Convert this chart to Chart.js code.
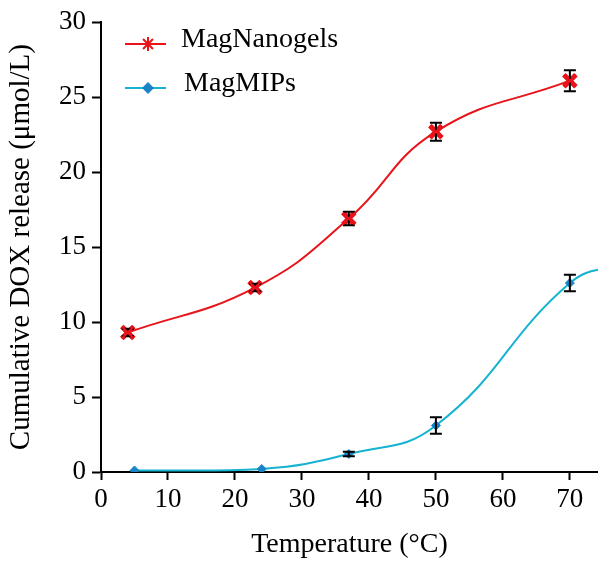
<!DOCTYPE html>
<html>
<head>
<meta charset="utf-8">
<script src="https://cdn.jsdelivr.net/npm/chart.js@4.4.0/dist/chart.umd.min.js"></script>
<style>
  html, body { margin: 0; padding: 0; background: #fff; }
  #wrap { width: 598px; height: 565px; }
</style>
</head>
<body>
<div id="wrap"><canvas id="releaseChart"></canvas></div>
<script>
var temps1 = [4, 23, 37, 50, 70];
var nanogels = [9.3, 12.3, 16.9, 22.7, 26.1];
var nanogelsErr = [0.25, 0.25, 0.45, 0.6, 0.7];

// last MagMIPs point sits past the axis end, only its curve shows
var temps2 = [5, 24, 37, 50, 70, 78];
var mips = [0.1, 0.2, 1.2, 3.1, 12.6, 13.9];
var mipsErr = [0, 0, 0.15, 0.55, 0.55, 0];

var xTicks = [0, 10, 20, 30, 40, 50, 60, 70];
var yTicks = [0, 5, 10, 15, 20, 25, 30];

var legendLabels = ["MagNanogels", "MagMIPs"];

var serif = "'Liberation Serif', 'Times New Roman', serif";

function toPoints(xs, ys) {
    var pts = [];
    for (var i = 0; i < xs.length; i++) pts.push({x: xs[i], y: ys[i]});
    return pts;
}

var errorBars = {
    id: "errorBars",
    afterDatasetsDraw: function(chart) {
        var ctx = chart.ctx;
        var xs = chart.scales.x, ys = chart.scales.y;
        var sets = [[temps1, nanogels, nanogelsErr], [temps2, mips, mipsErr]];
        ctx.save();
        ctx.strokeStyle = "#000";
        ctx.lineWidth = 2;
        sets.forEach(function(s) {
            for (var i = 0; i < s[0].length; i++) {
                if (!s[2][i]) continue;
                var px = xs.getPixelForValue(s[0][i]);
                var top = ys.getPixelForValue(s[1][i] + s[2][i]);
                var bot = ys.getPixelForValue(s[1][i] - s[2][i]);
                ctx.beginPath();
                ctx.moveTo(px, top); ctx.lineTo(px, bot);
                ctx.moveTo(px - 6, top); ctx.lineTo(px + 6, top);
                ctx.moveTo(px - 6, bot); ctx.lineTo(px + 6, bot);
                ctx.stroke();
            }
        });
        // redraw the red markers over the bars
        var meta = chart.getDatasetMeta(0);
        meta.data.forEach(function(pt) {
            ctx.strokeStyle = "#e8141a";
            ctx.fillStyle = "#e8141a";
            Chart.helpers.drawPoint(ctx, {pointStyle: "crossRot", radius: 8.5, borderWidth: 5, rotation: 0}, pt.x, pt.y);
        });
        ctx.restore();
    }
};

var customLegend = {
    id: "customLegend",
    afterDraw: function(chart) {
        var ctx = chart.ctx;
        var rows = [
            {y: 44, color: "#e8141a", style: "star", r: 7, bw: 2, fill: "#e8141a"},
            {y: 88, color: "#16b3d0", style: "rectRot", r: 4.5, bw: 1, fill: "#1a84c6"}
        ];
        ctx.save();
        rows.forEach(function(row, i) {
            ctx.strokeStyle = row.color;
            ctx.lineWidth = 2;
            ctx.beginPath();
            ctx.moveTo(125, row.y); ctx.lineTo(166, row.y);
            ctx.stroke();
            ctx.fillStyle = row.fill;
            ctx.strokeStyle = row.fill;
            Chart.helpers.drawPoint(ctx, {
                pointStyle: row.style, radius: row.r, borderWidth: row.bw, rotation: 0
            }, 148, row.y);
            ctx.fillStyle = "#000";
            ctx.font = "28px " + serif;
            ctx.textBaseline = "middle";
            ctx.fillText(legendLabels[i], i === 0 ? 181 : 184, row.y - 4);
        });
        ctx.restore();
    }
};

new Chart("releaseChart", {
    type: "line",
    data: {
        datasets: [{
            label: legendLabels[0],
            data: toPoints(temps1, nanogels),
            borderColor: "#e8141a",
            backgroundColor: "#e8141a",
            borderWidth: 2,
            pointStyle: "crossRot",
            pointRadius: 8.5,
            pointBorderWidth: 5,
            tension: 0.45
        }, {
            label: legendLabels[1],
            data: toPoints(temps2, mips),
            borderColor: "#16b3d0",
            backgroundColor: "#1a84c6",
            pointBorderColor: "#1a84c6",
            borderWidth: 2,
            pointStyle: "rectRot",
            pointRadius: [4.5, 4.5, 4.5, 4.5, 4.5, 0],
            pointBorderWidth: 1,
            tension: 0.45
        }]
    },
    options: {
        responsive: true,
        maintainAspectRatio: false,
        animation: false,
        layout: {autoPadding: false, padding: {top: 12, right: 0, left: 0, bottom: 0}},
        plugins: {legend: {display: false}, tooltip: {enabled: false}},
        scales: {
            x: {
                type: "linear",
                min: 0,
                max: 74.2,
                afterBuildTicks: function(scale) {
                    scale.ticks = xTicks.map(function(v) { return {value: v}; });
                },
                afterFit: function(scale) {
                    scale.height = 93;
                    scale.paddingLeft = 0;
                    scale.paddingRight = 0;
                },
                border: {color: "#000", width: 2},
                grid: {drawOnChartArea: false, drawTicks: true, tickLength: 8, tickColor: "#000", tickWidth: 2},
                ticks: {color: "#000", font: {family: serif, size: 27}, padding: 4, maxRotation: 0},
                title: {display: true, text: "Temperature (°C)", color: "#000", font: {family: serif, size: 28}, padding: {top: 6}}
            },
            y: {
                min: 0,
                max: 30,
                afterBuildTicks: function(scale) {
                    scale.ticks = yTicks.map(function(v) { return {value: v}; });
                },
                afterFit: function(scale) { scale.width = 101; },
                border: {color: "#000", width: 2},
                grid: {drawOnChartArea: false, drawTicks: true, tickLength: 9, tickColor: "#000", tickWidth: 2},
                ticks: {color: "#000", font: {family: serif, size: 27}, padding: 6},
                title: {display: true, text: "Cumulative DOX release (μmol/L)", color: "#000", font: {family: serif, size: 29}, padding: {bottom: 2}}
            }
        }
    },
    plugins: [errorBars, customLegend]
});
</script>
</body>
</html>
